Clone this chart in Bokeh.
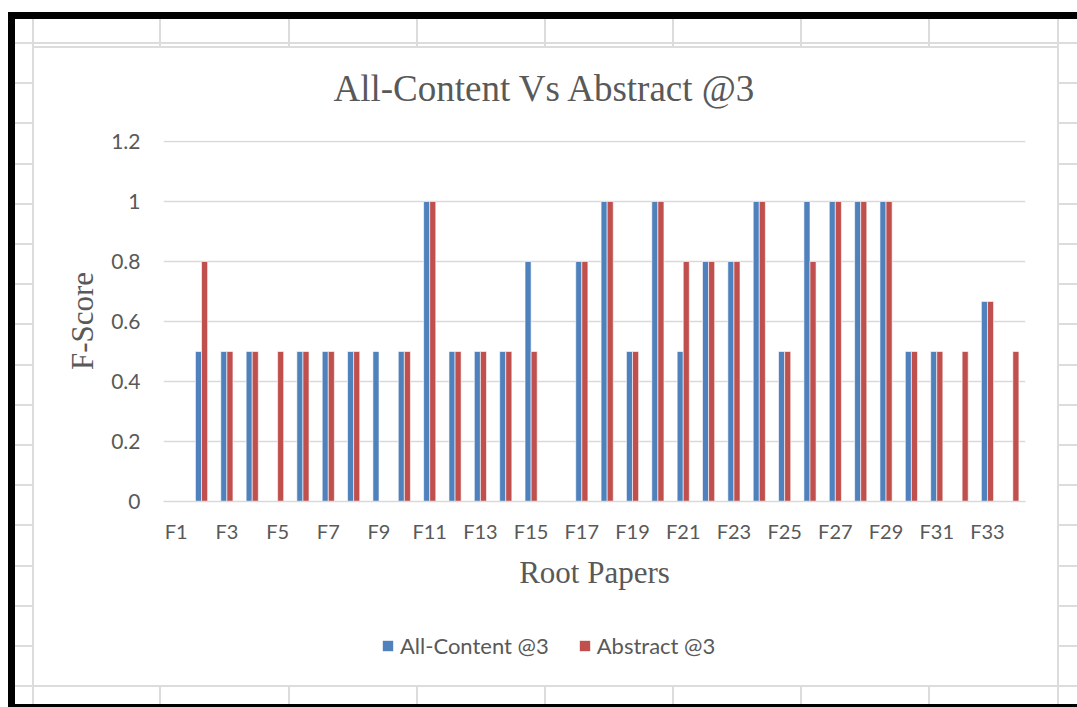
from bokeh.plotting import figure
from bokeh.layouts import column
from bokeh.models import (Range1d, FixedTicker, CustomJSTickFormatter, Legend,
                          LegendItem, ColumnDataSource)
from bokeh.transform import dodge
from bokeh.embed import file_html
from bokeh.resources import INLINE

categories = ["F1", "F2", "F3", "F4", "F5", "F6", "F7", "F8", "F9", "F10", "F11", "F12",
              "F13", "F14", "F15", "F16", "F17", "F18", "F19", "F20", "F21", "F22", "F23",
              "F24", "F25", "F26", "F27", "F28", "F29", "F30", "F31", "F32", "F33", "F34"]
all_content = [0, 0.5, 0.5, 0.5, 0, 0.5, 0.5, 0.5, 0.5, 0.5, 1, 0.5, 0.5, 0.5, 0.8, 0, 0.8,
               1, 0.5, 1, 0.5, 0.8, 0.8, 1, 0.5, 1, 1, 1, 1, 0.5, 0.5, 0, 0.667, 0]
abstract = [0, 0.8, 0.5, 0.5, 0.5, 0.5, 0.5, 0.5, 0, 0.5, 1, 0.5, 0.5, 0.5, 0.5, 0, 0.8,
            1, 0.5, 1, 0.8, 0.8, 0.8, 1, 0.5, 0.8, 1, 1, 1, 0.5, 0.5, 0.5, 0.667, 0.5]
y_ticks = [0, 0.2, 0.4, 0.6, 0.8, 1.0, 1.2]
series_names = ["All-Content @3", "Abstract @3"]

BLUE = "#4F81BD"
RED = "#C0504D"
TEXT = "#595959"
GRID = "#d9d9d9"
SHEET = "#dcdcdc"

xpos = list(range(1, len(categories) + 1))
src = ColumnDataSource(dict(x=xpos, cat=categories, a=all_content, b=abstract))

W, H = 1077, 707
FL, FR, FT, FB = 163, 1025, 140, 501  # frame edges on the page
MAIN_H = 611                          # main chart height; legend strip below

p = figure(x_range=Range1d(0.5, len(categories) + 0.5),
           y_range=Range1d(0, 1.2 * (FB - FT) / 360),
           frame_width=FR - FL, frame_height=FB - FT,
           output_backend="svg", toolbar_location=None,
           min_border_left=FL, min_border_right=W - FR,
           min_border_top=FT, min_border_bottom=MAIN_H - FB)
p.outline_line_color = None
p.background_fill_color = "white"
p.border_fill_alpha = 0

# ---- bars ----
bar_style = dict(width=0.24, line_color="white", line_width=0.6)
r1 = p.vbar(x=dodge("x", -0.12), top="a", source=src, fill_color=BLUE, **bar_style)
r2 = p.vbar(x=dodge("x", 0.12), top="b", source=src, fill_color=RED, **bar_style)

# ---- axes & grid ----
p.xgrid.visible = False
p.ygrid.ticker = FixedTicker(ticks=y_ticks)
p.ygrid.grid_line_color = GRID
p.ygrid.grid_line_width = 1.3

p.yaxis.ticker = FixedTicker(ticks=y_ticks)
p.yaxis.formatter = CustomJSTickFormatter(code="return tick.toFixed(1).replace(/\\.0$/, '');")
p.yaxis.axis_line_color = None
p.yaxis.major_tick_line_color = None
p.yaxis.minor_tick_line_color = None
p.yaxis.major_tick_out = 0
p.yaxis.major_tick_in = 0
p.yaxis.major_label_text_font = "Lato"
p.yaxis.major_label_text_font_size = "21px"
p.yaxis.major_label_text_color = TEXT
p.yaxis.major_label_standoff = 23
p.yaxis.axis_label = "F-Score"
p.yaxis.axis_label_text_font = "Liberation Serif"
p.yaxis.axis_label_text_font_size = "31px"
p.yaxis.axis_label_text_font_style = "normal"
p.yaxis.axis_label_text_color = TEXT
p.yaxis.axis_label_standoff = 8

p.xaxis.ticker = FixedTicker(ticks=xpos[::2])
p.xaxis.formatter = CustomJSTickFormatter(args=dict(cats=categories),
                                          code="return cats[Math.round(tick) - 1];")
p.xaxis.axis_line_color = GRID
p.xaxis.axis_line_width = 1.3
p.xaxis.major_tick_line_color = None
p.xaxis.minor_tick_line_color = None
p.xaxis.major_tick_out = 0
p.xaxis.major_tick_in = 0
p.xaxis.major_label_text_font = "Lato"
p.xaxis.major_label_text_font_size = "20px"
p.xaxis.major_label_text_color = TEXT
p.xaxis.major_label_standoff = 17
p.xaxis.axis_label = "Root Papers"
p.xaxis.axis_label_text_font = "Liberation Serif"
p.xaxis.axis_label_text_font_size = "31px"
p.xaxis.axis_label_text_font_style = "normal"
p.xaxis.axis_label_text_color = TEXT
p.xaxis.axis_label_standoff = 9

# ---- title ----
p.title.text = "All-Content Vs Abstract @3"
p.title.text_font = "Liberation Serif"
p.title.text_font_size = "37px"
p.title.text_font_style = "normal"
p.title.text_color = TEXT
p.title.align = "left"
p.title.offset = 170
p.title.standoff = 63

# ---- legend strip (its own small figure, so nothing gets clipped) ----
# Legend proxies reuse the real data, but this strip's y-range lies above every
# value, so the proxies themselves never show — only their square swatches.
q = figure(width=W, height=H - MAIN_H, x_range=p.x_range, y_range=Range1d(5, 6),
           output_backend="svg", toolbar_location=None,
           x_axis_location=None, y_axis_location=None,
           min_border=0, min_border_left=0, min_border_right=0,
           min_border_top=0, min_border_bottom=0)
q.outline_line_color = None
q.background_fill_alpha = 0
q.border_fill_alpha = 0
q.grid.visible = False
l1 = q.varea(x="x", y1=0, y2="a", source=src, fill_color=BLUE)
l2 = q.varea(x="x", y1=0, y2="b", source=src, fill_color=RED)
legend = Legend(items=[LegendItem(label=series_names[0], renderers=[l1]),
                       LegendItem(label=series_names[1], renderers=[l2])],
                orientation="horizontal", location=(381 - FL, 48),
                border_line_color=None, background_fill_alpha=0,
                label_text_font="Lato", label_text_font_size="22px",
                label_text_color=TEXT, glyph_width=13, glyph_height=13,
                label_standoff=6, spacing=29, padding=0, margin=0)
q.add_layout(legend, "center")

# ---- spreadsheet-like page background drawn with CSS on the layout element ----
layers = []


def rect(x0, y0, x1, y1, color):
    layers.append(f"linear-gradient({color},{color}) {x0}px {y0}px / {x1 - x0}px {y1 - y0}px no-repeat")


rect(8, 12, W, 19, "#000")
rect(8, 12, 15, H, "#000")
rect(8, 704, W, H, "#000")
rect(32, 19, 34, 704, SHEET)
rect(1057, 19, 1059, 704, SHEET)
rect(33, 46, 1058, 48, SHEET)
for k in range(17):
    y = round(43 + 40.2 * k)
    if y < 50 or y > 680:
        rect(15, y - 1, W, y + 1, SHEET)
    else:
        rect(15, y - 1, 33, y + 1, SHEET)
        rect(1058, y - 1, W, y + 1, SHEET)
for x in [160, 289, 417, 545, 673, 801, 929]:
    rect(x - 1, 19, x + 1, 47, SHEET)
    rect(x - 1, 686, x + 1, 704, SHEET)

page = column(p, q, spacing=0)
page.styles = {"background": ", ".join(layers) + ", #ffffff"}

open("out.html", "w").write(file_html(page, INLINE))
